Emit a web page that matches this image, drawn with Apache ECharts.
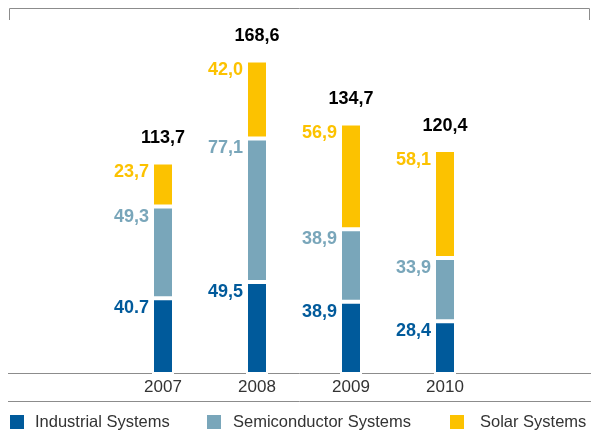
<!DOCTYPE html>
<html>
<head>
<meta charset="utf-8">
<script src="https://cdn.jsdelivr.net/npm/echarts@6/dist/echarts.min.js"></script>
<style>
html,body{margin:0;padding:0;background:#fff;}
#c{width:591px;height:430px;}
</style>
</head>
<body>
<div id="c"></div>
<script>
var years = ['2007', '2008', '2009', '2010'];
var seriesNames = ['Industrial Systems', 'Semiconductor Systems', 'Solar Systems'];
var industrial = [40.7, 49.5, 38.9, 28.4];
var semiconductor = [49.3, 77.1, 38.9, 33.9];
var solar = [23.7, 42.0, 56.9, 58.1];
var totals = [113.7, 168.6, 134.7, 120.4];
var industrialLabels = ['40.7', '49,5', '38,9', '28,4'];
var semiconductorLabels = ['49,3', '77,1', '38,9', '33,9'];
var solarLabels = ['23,7', '42,0', '56,9', '58,1'];
var totalLabels = ['113,7', '168,6', '134,7', '120,4'];

var colors = ['#005a9b', '#79a6ba', '#fcc200'];
var FONT = '"Liberation Sans", Arial, sans-serif';

function segSeries(name, data, labels, color) {
  return {
    name: name,
    type: 'bar',
    stack: 'total',
    barWidth: 22,
    data: data,
    itemStyle: { color: color, borderColor: '#fff', borderWidth: 2 },
    label: {
      show: true,
      position: [-3, 10],
      align: 'right',
      verticalAlign: 'middle',
      fontFamily: FONT,
      fontWeight: 'bold',
      fontSize: 18,
      color: color,
      formatter: function (p) { return labels[p.dataIndex]; }
    },
    emphasis: { disabled: true },
    silent: true
  };
}

function legendAt(left, name, pad) {
  return {
    left: left,
    top: 413,
    padding: 0,
    itemWidth: 16,
    itemHeight: 16,
    icon: 'rect',
    selectedMode: false,
    data: [name],
    textStyle: { fontFamily: FONT, fontSize: 16.5, color: '#333', padding: [0, 0, 0, pad] }
  };
}

var chart = echarts.init(document.getElementById('c'), null, { renderer: 'canvas' });
chart.setOption({
  animation: false,
  color: colors,
  grid: { left: 116, width: 376, top: 2, height: 372 },
  legend: [
    legendAt(8, seriesNames[0], 5),
    legendAt(205, seriesNames[1], 6),
    legendAt(448, seriesNames[2], 10)
  ],
  xAxis: {
    type: 'category',
    data: years,
    axisLine: { show: false },
    axisTick: { show: false },
    axisLabel: { fontFamily: FONT, fontSize: 17, color: '#333', margin: 5 }
  },
  yAxis: {
    type: 'value',
    min: 0,
    max: 200,
    show: false,
    splitLine: { show: false }
  },
  graphic: [
    { type: 'polyline', shape: { points: [[9.5, 20], [9.5, 8.5], [589.5, 8.5], [589.5, 20]] }, style: { stroke: '#8c8c8c', lineWidth: 1, fill: null }, silent: true },
    { type: 'line', shape: { x1: 8, y1: 373.5, x2: 591, y2: 373.5 }, style: { stroke: '#8c8c8c', lineWidth: 1 }, silent: true },
    { type: 'line', shape: { x1: 8, y1: 401.5, x2: 591, y2: 401.5 }, style: { stroke: '#8c8c8c', lineWidth: 1 }, silent: true }
  ],
  series: [
    segSeries(seriesNames[0], industrial, industrialLabels, colors[0]),
    segSeries(seriesNames[1], semiconductor, semiconductorLabels, colors[1]),
    segSeries(seriesNames[2], solar, solarLabels, colors[2]),
    {
      name: 'Total',
      type: 'scatter',
      symbolSize: 0,
      data: totals,
      itemStyle: { opacity: 1, color: '#000' },
      label: {
        show: true,
        position: 'top',
        distance: 15,
        fontFamily: FONT,
        fontWeight: 'bold',
        fontSize: 18,
        color: '#000',
        opacity: 1,
        formatter: function (p) { return totalLabels[p.dataIndex]; }
      },
      silent: true
    }
  ]
});
</script>
</body>
</html>
